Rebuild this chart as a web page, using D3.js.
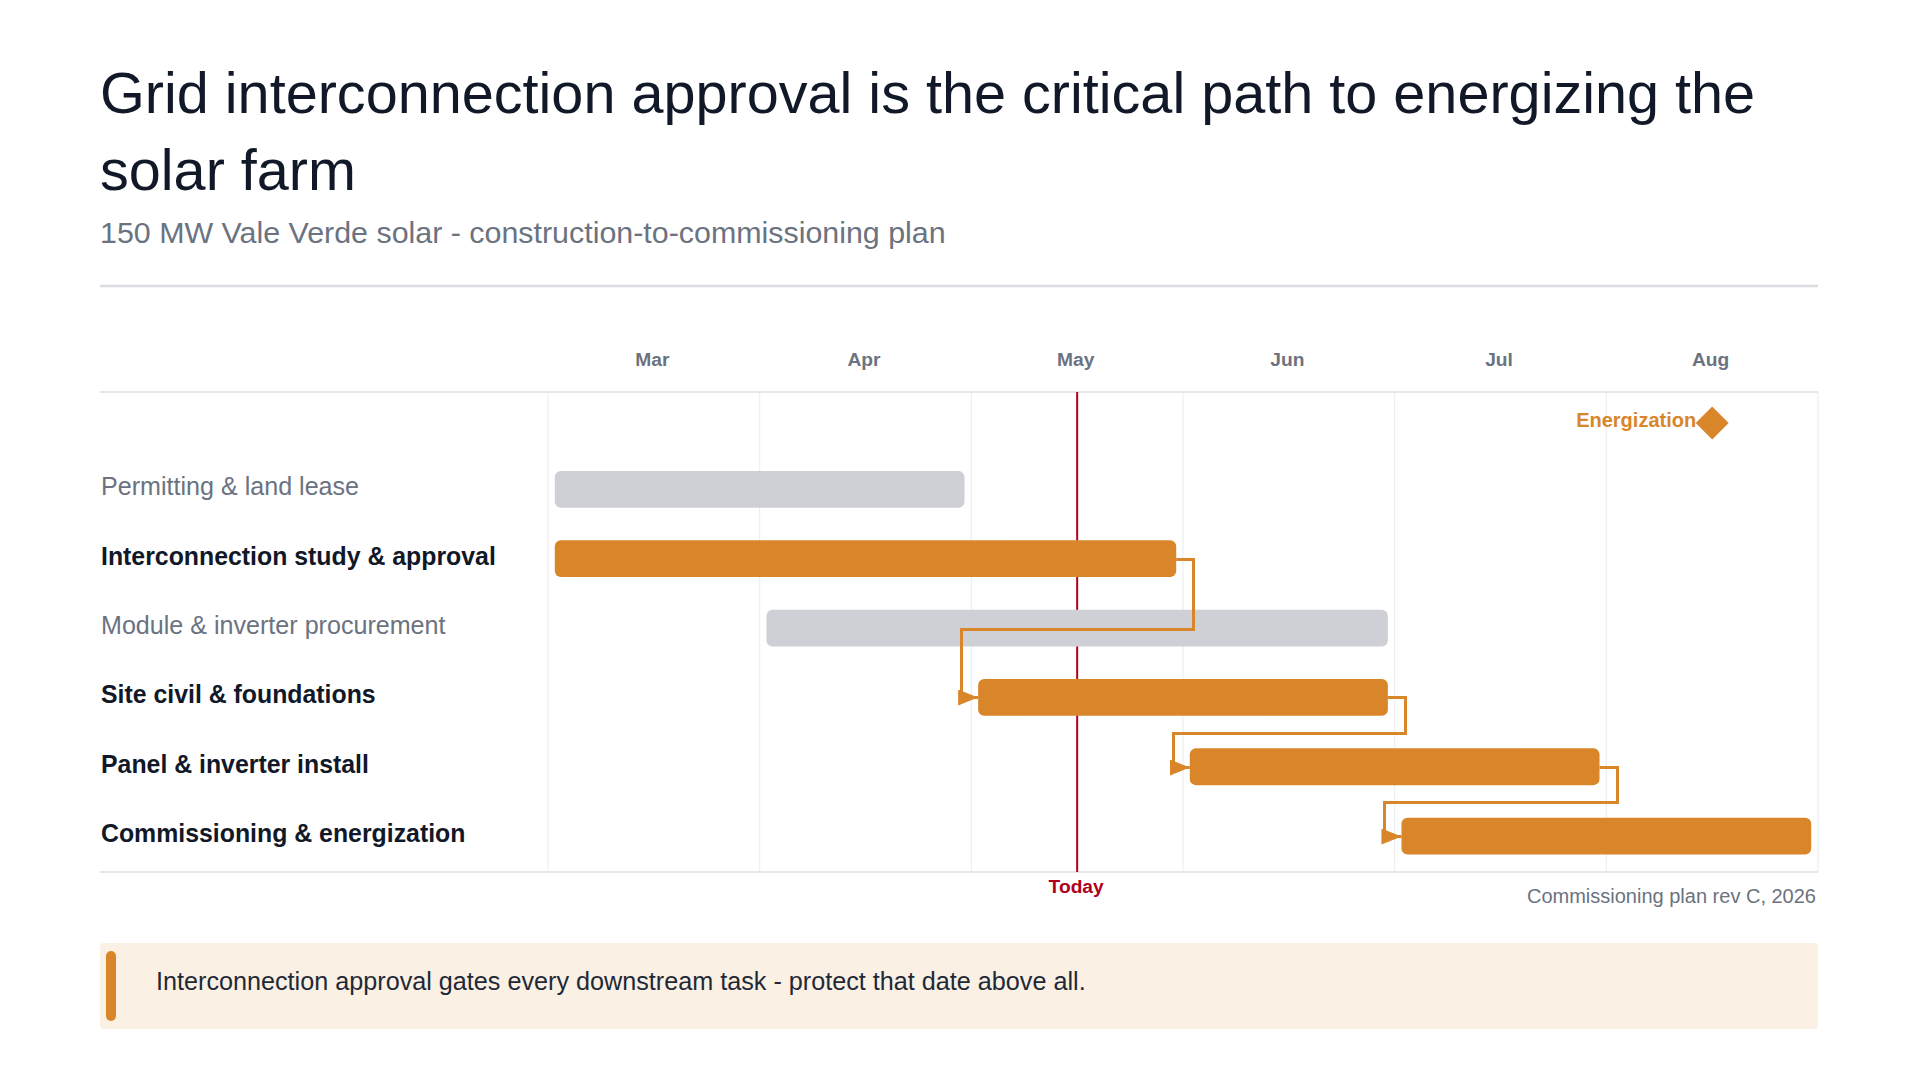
<!DOCTYPE html>
<html>
<head>
<meta charset="utf-8">
<script src="https://cdn.jsdelivr.net/npm/d3@7/dist/d3.min.js"></script>
<style>
  html, body { margin: 0; padding: 0; background: #ffffff; }
  svg { display: block; font-family: "Liberation Sans", Arial, Helvetica, sans-serif; }
</style>
</head>
<body>
<svg id="chart" width="1919" height="1080"></svg>
<script>
// ---- data ----
const titleText = "Grid interconnection approval is the critical path to energizing the solar farm";
const subtitleText = "150 MW Vale Verde solar - construction-to-commissioning plan";
const months = ["Mar", "Apr", "May", "Jun", "Jul", "Aug"];
const taskNames = [
  "Permitting & land lease",
  "Interconnection study & approval",
  "Module & inverter procurement",
  "Site civil & foundations",
  "Panel & inverter install",
  "Commissioning & energization"
];
const taskStart = [0, 0, 1, 2, 3, 4];     // month index (0 = Mar 1)
const taskEnd   = [2, 3, 4, 4, 5, 6];
const taskCritical = [false, true, false, true, true, true];
const dependencies = [[1, 3], [3, 4], [4, 5]];
const todayValue = 2.5;       // mid-May
const milestoneValue = 5.5;   // mid-Aug
const milestoneLabel = "Energization";
const todayLabel = "Today";
const footnoteText = "Commissioning plan rev C, 2026";
const calloutText = "Interconnection approval gates every downstream task - protect that date above all.";

// ---- styles ----
const ORANGE = "#d9862b", GRAY_BAR = "#cfd0d5", RED = "#b00020";
const DARK = "#111827", MUTED = "#6b7280";
const left = 100, right = 1818, plotLeft = 548;
const plotTop = 392, plotBottom = 872;
const BAR_INSET = 6.8;

const svg = d3.select("#chart");

// title (wrapped)
const title = svg.append("text").attr("x", left).attr("y", 113)
  .attr("font-size", 57.6).attr("fill", DARK);
{
  const words = titleText.split(" ");
  let line = [];
  let tspan = title.append("tspan").attr("x", left).attr("dy", 0);
  for (const w of words) {
    line.push(w);
    tspan.text(line.join(" "));
    if (tspan.node().getComputedTextLength() > right - left && line.length > 1) {
      line.pop();
      tspan.text(line.join(" "));
      line = [w];
      tspan = title.append("tspan").attr("x", left).attr("dy", 77).text(w);
    }
  }
}

svg.append("text").attr("x", left).attr("y", 243)
  .attr("font-size", 30.4).attr("fill", MUTED).text(subtitleText);

svg.append("line").attr("x1", left).attr("x2", right).attr("y1", 286).attr("y2", 286)
  .attr("stroke", "#d9dce1").attr("stroke-width", 2.5);

// scales
const x = d3.scaleLinear().domain([0, months.length]).range([plotLeft, right]);
const xm = d3.scaleBand().domain(months).range([plotLeft, right]);
const y = d3.scaleBand().domain(taskNames).range([454.6, 870.8]);
const barH = y.bandwidth() * 0.53;
const milestoneY = plotTop + 31;

// gridlines
svg.append("g").selectAll("line").data(d3.range(months.length + 1)).join("line")
  .attr("x1", d => x(d)).attr("x2", d => x(d))
  .attr("y1", plotTop).attr("y2", plotBottom)
  .attr("stroke", "#eceef1").attr("stroke-width", 1.2);

// month axis
const axis = svg.append("g").attr("transform", `translate(-1.5,${366})`)
  .call(d3.axisTop(xm).tickSize(0).tickPadding(0));
axis.select(".domain").remove();
axis.selectAll("text").attr("font-size", 19.2).attr("font-weight", "bold")
  .attr("fill", MUTED).attr("font-family", "Liberation Sans, Arial, sans-serif")
  .attr("dy", 0);

// header & bottom lines
svg.append("line").attr("x1", left).attr("x2", right).attr("y1", plotTop).attr("y2", plotTop)
  .attr("stroke", "#e5e7eb").attr("stroke-width", 2);
svg.append("line").attr("x1", left).attr("x2", right).attr("y1", plotBottom).attr("y2", plotBottom)
  .attr("stroke", "#e5e7eb").attr("stroke-width", 2);

// task labels
svg.append("g").selectAll("text").data(taskNames).join("text")
  .attr("x", 101).attr("y", d => y(d) + y.bandwidth() / 2 + 6)
  .attr("font-size", (d, i) => taskCritical[i] ? 24.85 : 25.1)
  .attr("font-weight", (d, i) => taskCritical[i] ? "bold" : "normal")
  .attr("fill", (d, i) => taskCritical[i] ? DARK : MUTED)
  .text(d => d);

// today line
svg.append("line").attr("x1", x(todayValue)).attr("x2", x(todayValue))
  .attr("y1", plotTop).attr("y2", plotBottom)
  .attr("stroke", RED).attr("stroke-width", 2);
svg.append("text").attr("x", x(todayValue) - 1).attr("y", 893)
  .attr("text-anchor", "middle").attr("font-size", 19.2).attr("font-weight", "bold")
  .attr("fill", RED).text(todayLabel);

// arrow marker
svg.append("defs").append("marker").attr("id", "arr")
  .attr("viewBox", "0 0 20 16").attr("refX", 20).attr("refY", 8)
  .attr("markerWidth", 20).attr("markerHeight", 16)
  .attr("markerUnits", "userSpaceOnUse").attr("orient", "auto")
  .append("path").attr("d", "M0,0L20,8L0,16Z").attr("fill", ORANGE);

// bars
svg.append("g").selectAll("rect").data(taskNames).join("rect")
  .attr("x", (d, i) => x(taskStart[i]) + BAR_INSET)
  .attr("width", (d, i) => x(taskEnd[i]) - x(taskStart[i]) - 2 * BAR_INSET)
  .attr("y", d => y(d) + (y.bandwidth() - barH) / 2)
  .attr("height", barH).attr("rx", 6)
  .attr("fill", (d, i) => taskCritical[i] ? ORANGE : GRAY_BAR);

// connectors (drawn over bars, snapped to pixel centres)
const snap = v => Math.round(v) + 0.5;
const cy = i => y(taskNames[i]) + y.bandwidth() / 2;
svg.append("g").selectAll("path").data(dependencies).join("path")
  .attr("d", ([a, b]) => {
    const x1 = x(taskEnd[a]) - BAR_INSET, y1 = snap(cy(a));
    const x2 = x(taskStart[b]) + BAR_INSET, y2 = snap(cy(b));
    const ym = snap((y1 + y2) / 2);
    return `M${x1},${y1}H${snap(x1 + 17)}V${ym}H${snap(x2 - 17)}V${y2}H${x2}`;
  })
  .attr("fill", "none").attr("stroke", ORANGE).attr("stroke-width", 3)
  .attr("marker-end", "url(#arr)");

// milestone
const mx = x(milestoneValue);
svg.append("path")
  .attr("d", d3.symbol().type(d3.symbolSquare).size(2 * 16.5 * 16.5)())
  .attr("transform", `translate(${mx},${milestoneY}) rotate(45)`)
  .attr("fill", ORANGE);
svg.append("text").attr("x", mx - 16).attr("y", milestoneY + 4)
  .attr("text-anchor", "end").attr("font-size", 20).attr("font-weight", "bold")
  .attr("fill", ORANGE).text(milestoneLabel);

// footnote
svg.append("text").attr("x", 1816).attr("y", 903).attr("text-anchor", "end")
  .attr("font-size", 20).attr("fill", MUTED).text(footnoteText);

// callout
svg.append("rect").attr("x", left).attr("y", 943).attr("width", right - left).attr("height", 86)
  .attr("rx", 4).attr("fill", "#faf0e4");
svg.append("rect").attr("x", 106).attr("y", 951).attr("width", 10).attr("height", 70)
  .attr("rx", 5).attr("fill", ORANGE);
svg.append("text").attr("x", 156).attr("y", 990).attr("font-size", 25.2)
  .attr("fill", "#1f2937").text(calloutText);
</script>
</body>
</html>
